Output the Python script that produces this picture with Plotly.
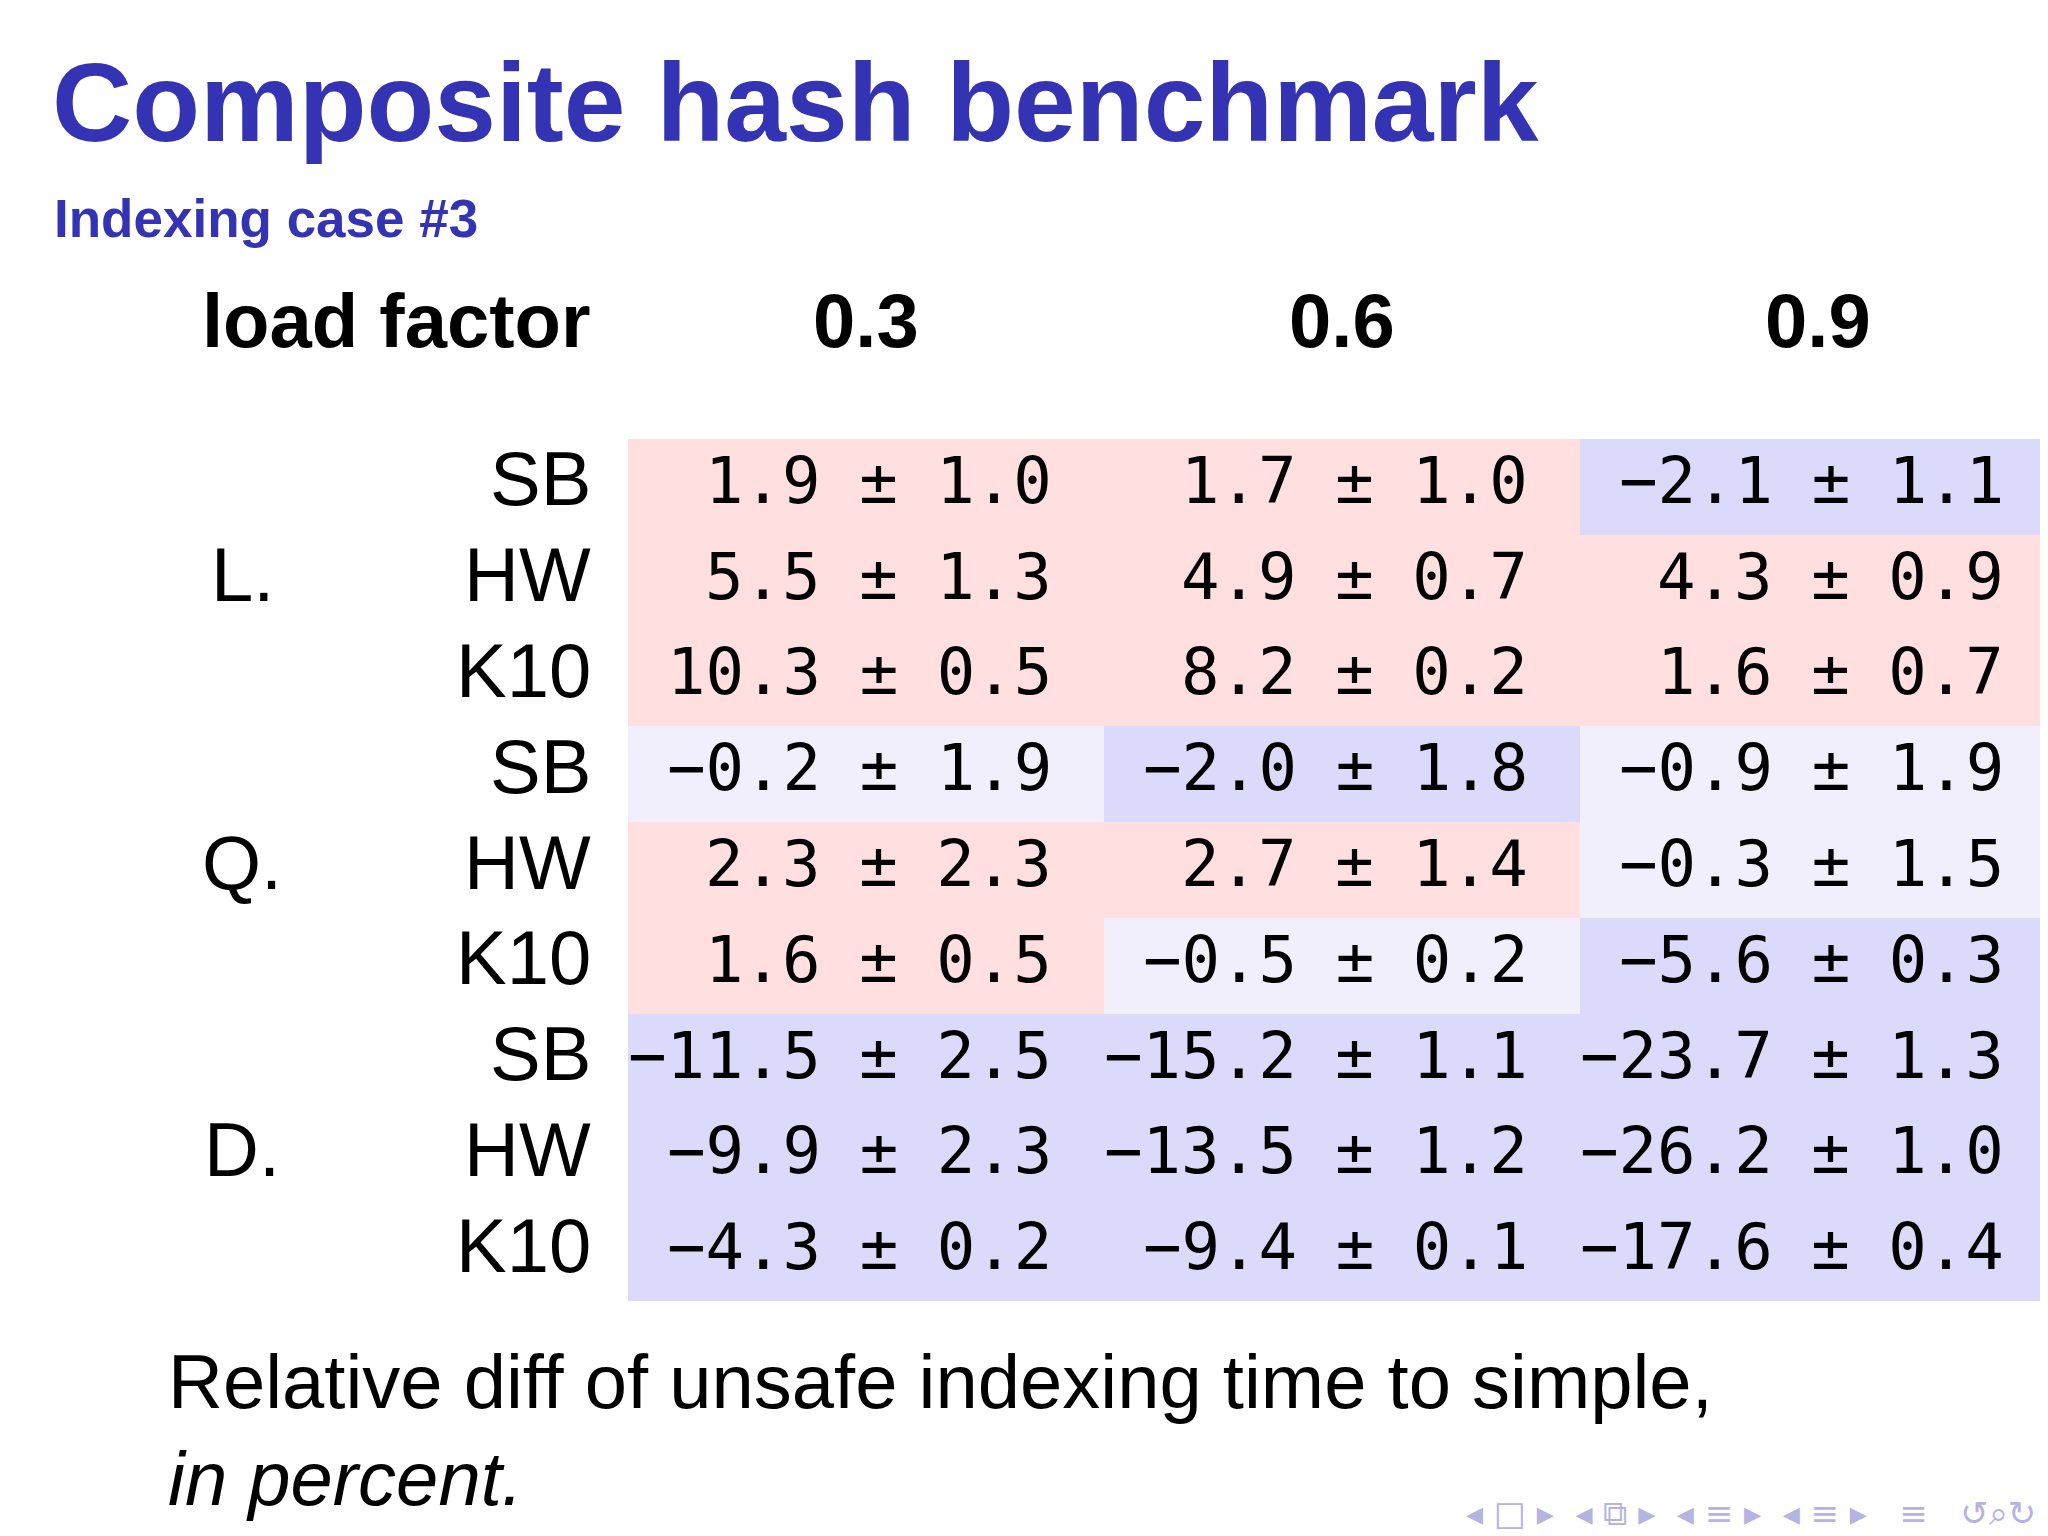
import plotly.graph_objects as go

W, H = 2048, 1536

load_factors = ["0.3", "0.6", "0.9"]
groups = ["L.", "Q.", "D."]
hashes = ["SB", "HW", "K10"]

# rows: L.SB, L.HW, L.K10, Q.SB, Q.HW, Q.K10, D.SB, D.HW, D.K10
means = [
    [1.9, 1.7, -2.1],
    [5.5, 4.9, 4.3],
    [10.3, 8.2, 1.6],
    [-0.2, -2.0, -0.9],
    [2.3, 2.7, -0.3],
    [1.6, -0.5, -5.6],
    [-11.5, -15.2, -23.7],
    [-9.9, -13.5, -26.2],
    [-4.3, -9.4, -17.6],
]
errs = [
    [1.0, 1.0, 1.1],
    [1.3, 0.7, 0.9],
    [0.5, 0.2, 0.7],
    [1.9, 1.8, 1.9],
    [2.3, 1.4, 1.5],
    [0.5, 0.2, 0.3],
    [2.5, 1.1, 1.3],
    [2.3, 1.2, 1.0],
    [0.2, 0.1, 0.4],
]

def level(v):
    if v > 0:
        return 2
    if v > -1:
        return 1
    return 0

z = [[level(v) for v in row] for row in means]
rows = list(range(len(means)))
cols = list(range(3))

fig = go.Figure(go.Heatmap(
    z=z, x=cols, y=rows, zmin=0, zmax=2, showscale=False, hoverinfo="skip",
    colorscale=[[0, "#dcdafa"], [0.5, "#f0effb"], [1, "#ffdfdf"]],
    xgap=0, ygap=0,
))

def fmt(v):
    return ("\u2212" if v < 0 else "") + f"{abs(v):.1f}"

for r in rows:
    for c in cols:
        fig.add_annotation(
            x=c + 0.5, y=r, xref="x", yref="y", xanchor="right", xshift=-50, yshift=6,
            text=f"{fmt(means[r][c])}\u2009\u00b1\u2009{errs[r][c]:.1f}", showarrow=False,
            font=dict(family="DejaVu Sans Mono", size=64, color="black"),
        )

def px(x):
    return x / W

def py(y):
    return 1 - y / H

top, bottom, left = 431, 1293, 620
rowh = (bottom - top) / len(means)

# row labels
for i in rows:
    fig.add_annotation(x=px(585), y=py(top + rowh * (i + 0.5) - 8), xref="paper", yref="paper",
                       xanchor="right", yanchor="middle", showarrow=False,
                       text=hashes[i % 3], font=dict(family="Liberation Sans", size=76, color="black"))
for g, name in enumerate(groups):
    fig.add_annotation(x=px(234), y=py(top + rowh * (3 * g + 1.5) - 8), xref="paper", yref="paper",
                       xanchor="center", yanchor="middle", showarrow=False,
                       text=name, font=dict(family="Liberation Sans", size=76, color="black"))

# header
fig.add_annotation(x=px(585), y=py(312), xref="paper", yref="paper", xanchor="right",
                   yanchor="middle", showarrow=False, text="<b>load factor</b>",
                   font=dict(family="Liberation Sans", size=76, color="black"))
for c, lf in enumerate(load_factors):
    fig.add_annotation(x=c, y=py(312), xref="x", yref="paper", xanchor="center",
                       yanchor="middle", showarrow=False, text=f"<b>{lf}</b>",
                       font=dict(family="Liberation Sans", size=76, color="black"))

# titles
fig.add_annotation(x=px(42), y=py(95), xref="paper", yref="paper", xanchor="left",
                   yanchor="middle", showarrow=False, text="<b>Composite hash benchmark</b>",
                   font=dict(family="Liberation Sans", size=111, color="#3333b3"))
fig.add_annotation(x=px(44), y=py(210), xref="paper", yref="paper", xanchor="left",
                   yanchor="middle", showarrow=False, text="<b>Indexing case #3</b>",
                   font=dict(family="Liberation Sans", size=53, color="#3333b3"))

# caption
fig.add_annotation(x=px(158), y=py(1373), xref="paper", yref="paper", xanchor="left",
                   yanchor="middle", showarrow=False,
                   text="Relative diff of unsafe indexing time to simple,",
                   font=dict(family="Liberation Sans", size=76, color="black"))
fig.add_annotation(x=px(158), y=py(1470), xref="paper", yref="paper", xanchor="left",
                   yanchor="middle", showarrow=False, text="<i>in percent.</i>",
                   font=dict(family="Liberation Sans", size=76, color="black"))

# navigation symbols
fig.add_annotation(x=px(2030), y=py(1505), xref="paper", yref="paper", xanchor="right",
                   yanchor="middle", showarrow=False,
                   text="\u25c2 \u25a1 \u25b8  \u25c2 \u29c9 \u25b8  \u25c2 \u2261 \u25b8  \u25c2 \u2261 \u25b8   \u2261   \u21ba\u2315\u21bb",
                   font=dict(family="DejaVu Sans", size=34, color="#b5b3e0"))

fig.update_layout(
    width=W, height=H, margin=dict(l=0, r=0, t=0, b=0),
    paper_bgcolor="white", plot_bgcolor="white",
    xaxis=dict(domain=[px(left), 1], range=[-0.5, 2.5], visible=False, fixedrange=True),
    yaxis=dict(domain=[py(bottom), py(top)], range=[8.5, -0.5], visible=False, fixedrange=True),
)

fig.write_html("out.html")
